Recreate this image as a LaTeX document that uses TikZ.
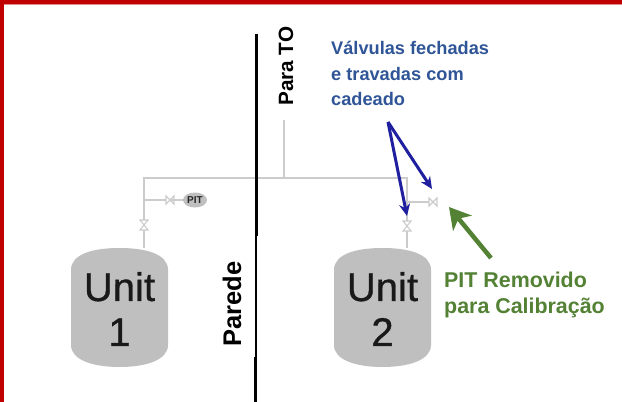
\documentclass[tikz,border=0pt]{standalone}
\usepackage{fontspec}
\setmainfont{Liberation Sans}
\newfontfamily\unitfont[FakeBold=0.8]{Liberation Sans}
\usetikzlibrary{arrows.meta,shapes.geometric}
\definecolor{bred}{HTML}{C00000}
\definecolor{pipe}{HTML}{CCCCCC}
\definecolor{tankc}{HTML}{BFBFBF}
\definecolor{bluet}{HTML}{2F5597}
\definecolor{bluea}{HTML}{1F1F9F}
\definecolor{greent}{HTML}{548235}
\tikzset{
 pipeline/.style={draw=pipe,line width=1.8pt},
 valvesym/.style={draw=pipe,line width=1.1pt,fill=white},
 tanklabel/.style={font=\unitfont\fontsize{40}{45}\selectfont,text=black!90,align=center,inner sep=0,text width=90pt},
 walllabel/.style={font=\bfseries\fontsize{25.5}{28}\selectfont,rotate=90,inner sep=0},
 bluelabel/.style={font=\bfseries\fontsize{18.2}{25.5}\selectfont,text=bluet,align=left,inner sep=0,anchor=north west},
 bluearrow/.style={draw=bluea,line width=3pt,-{Stealth[length=12pt,width=11pt]}},
 greenarrow/.style={draw=greent,line width=4.5pt,-{Stealth[length=21pt,width=24pt,inset=6pt]}},
 wallline/.style={draw=black,line width=3pt},
}
\begin{document}
\begin{tikzpicture}[x=1pt,y=-1pt]
\useasboundingbox (0,0) rectangle (622,402);
\fill[white] (0,0) rectangle (622,402);
% frame
\fill[bred] (0,0) rectangle (622,3.5);
\fill[bred] (0,0) rectangle (4,402);
\fill[bred!45] (4,3.5) rectangle (622,5);
% pipes
\coordinate (to) at (284,120); \coordinate (toj) at (284,178);
\coordinate (l) at (144,178); \coordinate (r) at (407,178);
\coordinate (lt) at (144,248); \coordinate (rt) at (407,248);
\coordinate (lb) at (144,200); \coordinate (rb) at (407,202);
\coordinate (lv2) at (170,200); \coordinate (rv2) at (433,202);
\coordinate (lv1) at (144,225); \coordinate (rv1) at (407,226);
\draw[pipeline] (to) -- (toj);
\draw[pipeline] (lt) -- (l) -- (r) -- (rt);
\draw[pipeline,line width=1.2pt] (lb) -- (lv2);
\draw[pipeline,line width=1.2pt] (rb) -- (rv2);
% walls
\coordinate (w1) at (256,34); \coordinate (w2) at (256,236);
\coordinate (w3) at (255.7,236); \coordinate (w4) at (255.7,357);
\coordinate (w5) at (255,357); \coordinate (w6) at (255,402);
\draw[wallline] (w1) -- (w2);
\draw[draw=black,line width=1.8pt] (w3) -- (w4);
\draw[wallline] (w5) -- (w6);
% valves
\foreach \c in {lv1,rv1}{
 \draw[valvesym] ([shift={(-4,-5)}]\c) -- ([shift={(4,-5)}]\c) -- ([shift={(-4,5)}]\c) -- ([shift={(4,5)}]\c) -- cycle;}
\foreach \c in {lv2,rv2}{
 \draw[valvesym] ([shift={(-4,-4)}]\c) -- ([shift={(-4,4)}]\c) -- ([shift={(4,-4)}]\c) -- ([shift={(4,4)}]\c) -- cycle;}
% PIT
\draw[pipeline,line width=1.2pt] (lv2) -- (186,200);
\node[ellipse,fill=tankc,inner sep=0,minimum width=24pt,minimum height=15pt,font=\bfseries\fontsize{10}{11}\selectfont,text=black!85] (pit) at (195,200) {PIT};
% tanks
\foreach \x/\n/\t in {71/1/t1,334/2/t2}{
 \fill[tankc] (\x,270) .. controls (\x,254) and (\x+22,248) .. (\x+48.5,248)
   .. controls (\x+75,248) and (\x+97,254) .. (\x+97,270)
   -- (\x+97,345) .. controls (\x+97,360) and (\x+75,367) .. (\x+48.5,367)
   .. controls (\x+22,367) and (\x,360) .. (\x,345) -- cycle;
 \node[tanklabel] (\t) at (\x+48.5,309) {Unit\\\n};
}
% texts
\node[walllabel,anchor=west] (parato) at (286,106) {\fontsize{20.7}{23}\selectfont Para TO};
\node[walllabel,anchor=west] (parede) at (232,347) {Parede};
\node[bluelabel] (blue) at (331,41) {Válvulas fechadas\\e travadas com\\cadeado};
\node[font=\bfseries\fontsize{21.4}{26}\selectfont,text=greent,align=left,inner sep=0,anchor=north west] (green) at (444,272) {PIT Removido\\para Calibração};
% arrows
\coordinate (bs) at (388,122);
\coordinate (gs) at (491,258);
\coordinate (bt1) at (407,216);
\coordinate (bt2) at (432,189);
\coordinate (gt) at (449,207);
\draw[bluearrow] (bs) -- (bt1);
\draw[bluearrow] (bs) -- (bt2);
\draw[greenarrow] (gs) -- (gt);
\end{tikzpicture}
\end{document}
